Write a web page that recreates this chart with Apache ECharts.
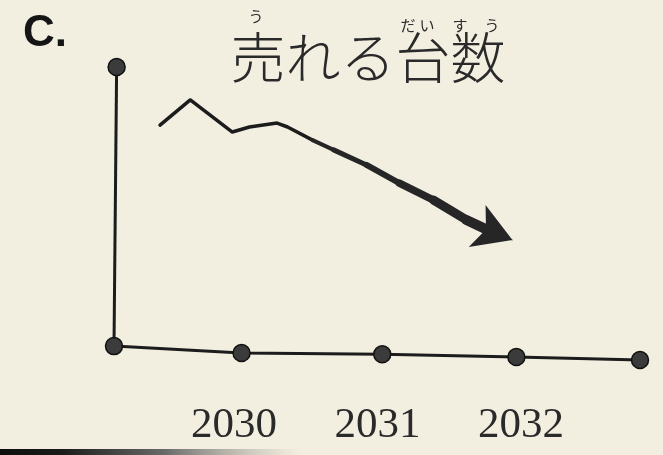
<!DOCTYPE html>
<html><head><meta charset="utf-8">
<script src="https://cdn.jsdelivr.net/npm/echarts@6/dist/echarts.min.js"></script>
<style>html,body{margin:0;padding:0;background:#f3efe0}#c{width:663px;height:455px}</style>
</head><body><div id="c"></div>
<script>
// Trend line (sales volume), x in years, y in relative units (0..100)
const trendX = [2029.35, 2029.58, 2029.90, 2030.03, 2030.24, 2030.32, 2030.51, 2030.67, 2030.92, 2031.17, 2031.43, 2031.68, 2031.86, 2032.03];
const trendY = [79.2, 88.2, 76.7, 78.5, 79.9, 78.5, 73.8, 70.3, 64.9, 58.4, 52.3, 45.2, 41.2, 38.0];
// Hand-drawn baseline with dots
const baseX = [2029, 2029.97, 2031.04, 2032.06, 2033];
const baseY = [0, -2.5, -2.9, -3.9, -5.0];
// Hand-drawn vertical axis
const vAxisX = [2029, 2029.02];
const vAxisY = [0, 100];
// Tick labels
const tickYears = [2030, 2031, 2032];
const tickLabels = ['2030', '2031', '2032'];
const titleText = '売れる台数';
const labelText = 'C.';

const ink = '#1c1c1c';
const dotFill = '#3b3b3b';
const n = trendX.length;
const trendData = trendX.map((x, i) => [x, trendY[i]]);
const baseData = baseX.map((x, i) => [x, baseY[i]]);
const vAxisData = vAxisX.map((x, i) => [x, vAxisY[i]]);

// tapering shaft of the arrow (style only), last segment carries the arrow head
const shaftWidths = [4, 5, 6, 7.5, 9, 10, 1];
const shaftStart = n - 1 - shaftWidths.length;
const shaftSegs = shaftWidths.map((w, k) => {
  const last = k === shaftWidths.length - 1;
  const end = {coord: trendData[shaftStart + k + 1]};
  if (!last) end.symbol = 'none';
  return [{coord: trendData[shaftStart + k], lineStyle: {width: w, cap: last ? 'butt' : 'round'}}, end];
});

const chart = echarts.init(document.getElementById('c'), null, {renderer: 'canvas'});
chart.setOption({
  backgroundColor: '#f3efe0',
  animation: false,
  grid: [
    {left: 114, right: 23, top: 67, bottom: 81},
    {left: 234, right: 142, top: 67, bottom: 81}
  ],
  xAxis: [
    {type: 'value', gridIndex: 0, min: 2029, max: 2033, interval: 1, show: false},
    {type: 'value', gridIndex: 1, min: tickYears[0], max: tickYears[tickYears.length - 1], interval: 1,
     axisLine: {show: false}, axisTick: {show: false}, splitLine: {show: false},
     axisLabel: {margin: 30, fontFamily: 'Liberation Serif', fontSize: 43, color: '#2a2a2a',
       formatter: v => { const k = tickYears.indexOf(v); return k >= 0 ? tickLabels[k] : ''; }}}
  ],
  yAxis: [
    {type: 'value', gridIndex: 0, min: -10, max: 100, show: false},
    {type: 'value', gridIndex: 1, min: -10, max: 100, show: false}
  ],
  graphic: [
    {type: 'text', left: 23, top: 12, style: {text: labelText, font: 'bold 44px "Liberation Sans"', fill: '#151515'}},
    {type: 'text', x: 368, y: 57, style: {text: titleText, font: '300 55px "Noto Sans CJK JP"', fill: '#2a2a2a', align: 'center', verticalAlign: 'middle'}},
    {type: 'text', x: 256, y: 16, style: {text: 'う', font: '15px "Noto Sans CJK JP"', fill: '#2a2a2a', align: 'center', verticalAlign: 'middle'}},
    {type: 'text', x: 408, y: 25, style: {text: 'だ', font: '15px "Noto Sans CJK JP"', fill: '#2a2a2a', align: 'center', verticalAlign: 'middle'}},
    {type: 'text', x: 427, y: 25, style: {text: 'い', font: '15px "Noto Sans CJK JP"', fill: '#2a2a2a', align: 'center', verticalAlign: 'middle'}},
    {type: 'text', x: 460, y: 25, style: {text: 'す', font: '15px "Noto Sans CJK JP"', fill: '#2a2a2a', align: 'center', verticalAlign: 'middle'}},
    {type: 'text', x: 492, y: 25, style: {text: 'う', font: '15px "Noto Sans CJK JP"', fill: '#2a2a2a', align: 'center', verticalAlign: 'middle'}},
    {type: 'rect', left: 0, top: 449, shape: {width: 300, height: 6},
     style: {fill: new echarts.graphic.LinearGradient(0, 0, 1, 0, [
       {offset: 0, color: '#0e0e0e'}, {offset: 0.2, color: '#1a1a1a'},
       {offset: 0.55, color: '#6a6a6a'}, {offset: 1, color: 'rgba(160,160,150,0)'}])}}
  ],
  series: [
    {type: 'line', name: 'vaxis', xAxisIndex: 0, yAxisIndex: 0, data: vAxisData, clip: false,
     lineStyle: {color: ink, width: 3}, symbol: 'circle', symbolSize: (v, p) => p.dataIndex === 1 ? 17 : 0,
     itemStyle: {color: dotFill, borderColor: '#111', borderWidth: 1.5}},
    {type: 'line', name: 'base', xAxisIndex: 0, yAxisIndex: 0, data: baseData, clip: false,
     lineStyle: {color: ink, width: 3}, symbol: 'circle', symbolSize: 17,
     itemStyle: {color: dotFill, borderColor: '#111', borderWidth: 1.5}},
    {type: 'line', name: 'trend', xAxisIndex: 0, yAxisIndex: 0, data: trendData.slice(0, shaftStart + 1), clip: false,
     lineStyle: {color: ink, width: 3.5, join: 'round', cap: 'round'}, symbol: 'none',
     markLine: {silent: true, animation: false, label: {show: false},
       symbol: ['none', 'arrow'], symbolSize: [34, 38],
       itemStyle: {color: '#262626'},
       lineStyle: {color: '#262626', type: 'solid'},
       data: shaftSegs}}
  ]
});
</script></body></html>
